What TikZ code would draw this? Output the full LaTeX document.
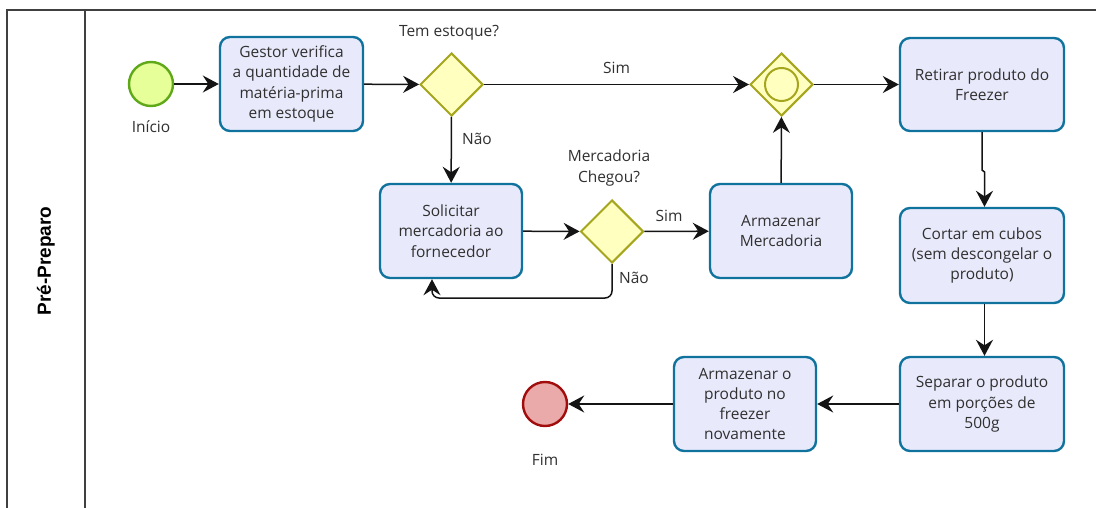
\documentclass[tikz,border=0pt]{standalone}
\usepackage{fontspec}
\setmainfont{Open Sans}
\newfontfamily\lanefont{Liberation Sans}
\usetikzlibrary{shapes.geometric,arrows.meta}
\definecolor{taskfill}{HTML}{E8EAFB}
\definecolor{taskline}{HTML}{10739E}
\definecolor{gwfill}{HTML}{FFFFC0}
\definecolor{gwline}{HTML}{A5A51E}
\definecolor{startfill}{HTML}{E6FF99}
\definecolor{startline}{HTML}{5FA819}
\definecolor{endfill}{HTML}{EAAAAA}
\definecolor{endline}{HTML}{A10C0C}
\definecolor{txt}{HTML}{303030}
\begin{document}
\begin{tikzpicture}[x=1pt,y=-1pt,
  every node/.style={text=txt, font=\fontsize{15.5}{20.3}\selectfont},
  task/.style={draw=taskline, fill=taskfill, line width=2.4pt, rounded corners=10pt,
    align=center, inner sep=2pt, minimum height=94pt},
  gateway/.style={diamond, aspect=1, draw=gwline, fill=gwfill, line width=2pt,
    minimum width=63pt, minimum height=63pt, inner sep=0pt},
  event/.style={circle, line width=2.4pt, minimum size=44pt, inner sep=0pt},
  lbl/.style={align=center, inner sep=0pt},
  flow/.style={draw=black!92, line width=1.5pt, -{Stealth[length=16pt,width=17pt,inset=5.5pt]}},
  pool/.style={draw=black!75, line width=1.6pt}]
\useasboundingbox (0,0) rectangle (1096,508);
\clip (0,0) rectangle (1096,508);
\fill[white] (0,0) rectangle (1096,508);

% pool and lane header
\draw[pool] (7,520) -- (7,10) -- (1110,10);
\draw[pool] (85,10) -- (85,520);
\node[rotate=90, text=black, font=\lanefont\bfseries\fontsize{19}{22}\selectfont] (lane) at (46,261) {Pré-Preparo};

% events
\node[event, draw=startline, fill=startfill] (start) at (151,84) {};
\node[lbl] (startlbl) at (151,127) {Início};
\node[event, draw=endline, fill=endfill] (fim) at (545,404) {};
\node[lbl] (fimlbl) at (545,460) {Fim};

% tasks
\node[task, minimum width=143pt] (verif) at (291.5,84) {Gestor verifica\\a quantidade de\\matéria-prima\\em estoque};
\node[task, minimum width=142pt] (solic) at (451,231) {Solicitar\\mercadoria ao\\fornecedor};
\node[task, minimum width=142pt] (armaz) at (781,231) {Armazenar\\Mercadoria};
\node[task, minimum width=164pt, minimum height=93pt] (retir) at (982,84.5) {Retirar produto do\\Freezer};
\node[task, minimum width=164pt, minimum height=95pt] (cortar) at (982,255.5) {Cortar em cubos\\(sem descongelar o\\produto)};
\node[task, minimum width=164pt] (separ) at (982,404) {Separar o produto\\em porções de\\500g};
\node[task, minimum width=142pt] (armo) at (745,404) {Armazenar o\\produto no\\freezer\\novamente};

% gateways
\node[gateway] (gw1) at (451.5,84.5) {};
\node[lbl] (gw1lbl) at (449,33) {Tem estoque?};
\node[gateway] (gw2) at (781.5,84.5) {};
\draw[gwline, line width=2pt] (gw2.center) circle (16.5pt);
\node[gateway] (gw3) at (612,231.5) {};
\node[lbl] (gw3lbl) at (609,168) {Mercadoria\\Chegou?};

% sequence flows
\draw[flow] (start) -- (verif);
\draw[flow] (verif) -- (gw1);
\draw[flow] (gw1) -- node[lbl, above=10pt] (simlbl1) {Sim} (gw2);
\draw[flow] (gw1) -- (solic);
\node[lbl] (naolbl1) at (477,139) {Não};
\draw[flow] (gw2) -- (retir);
\draw[flow] (solic) -- (gw3);
\draw[flow] (gw3) -- (armaz);
\node[lbl] (simlbl2) at (669,216) {Sim};
\draw[flow] (armaz) -- (gw2);
\draw[flow, rounded corners=7pt] (gw3.south) -- (612,298) -- (432,298) -- ([xshift=-19pt]solic.south);
\node[lbl] (naolbl2) at (634,278) {Não};
\draw[flow] (retir.south) -- (982,170) -- (984.5,172) -- ([xshift=2.5pt]cortar.north);
\draw[flow] ([xshift=2.5pt]cortar.south) -- ([xshift=2.5pt]separ.north);
\draw[flow] (separ) -- (armo);
\draw[flow] (armo) -- (fim);
\end{tikzpicture}
\end{document}
